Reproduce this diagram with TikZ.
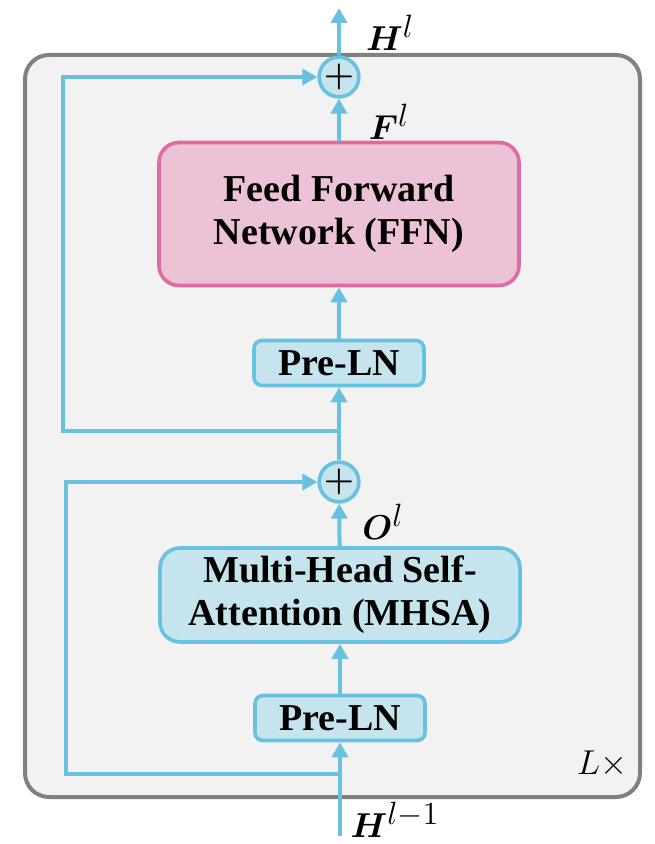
\documentclass[tikz,border=0pt]{standalone}
\usepackage{fontspec}
\setmainfont{Liberation Serif}
\usepackage{amsmath}
\usepackage{graphicx}
\usetikzlibrary{arrows.meta}
\definecolor{skyline}{RGB}{104,193,222}
\definecolor{lnfill}{RGB}{197,228,237}
\definecolor{ffnfill}{RGB}{236,195,214}
\definecolor{ffnline}{RGB}{223,108,160}
\definecolor{outerfill}{RGB}{242,242,242}
\definecolor{outerline}{RGB}{128,128,128}
\newcommand{\supl}[1]{^{\scalebox{1.12}{$\scriptstyle #1$}}}

\begin{document}
\begin{tikzpicture}[x=0.5pt,y=-0.5pt,
  >={Triangle[length=7.5pt,width=8pt]},
  flow/.style={draw=skyline,line width=2pt},
  boxtext/.style={font=\fontsize{19}{21.5}\selectfont\bfseries,align=center},
  lnbox/.style={boxtext,draw=skyline,fill=lnfill,line width=1.8pt,rounded corners=4pt,
    minimum width=85pt,minimum height=22.5pt,inner sep=0pt},
  bigbox/.style={boxtext,line width=1.8pt,rounded corners=10pt,minimum width=180pt,inner sep=0pt},
  addnode/.style={circle,draw=skyline,fill=lnfill,line width=1.8pt,minimum size=19pt,
    inner sep=0pt,font=\fontsize{17}{20}\selectfont},
  lbl/.style={font=\fontsize{19}{22}\selectfont}
]
\useasboundingbox (0,0) rectangle (654,844);
% layer frame
\draw[draw=outerline,fill=outerfill,line width=2pt,rounded corners=12pt] (25,55) rectangle (640,797);
\node[lbl] (rep) at (602,764) {$L\times$};

% main column
\node[addnode] (add2) at (339,77) {$\boldsymbol{+}$};
\node[bigbox,draw=ffnline,fill=ffnfill,minimum height=71.5pt] (ffn) at (339,214) {Feed Forward\\Network (FFN)};
\node[lnbox] (ln2) at (339,363) {Pre-LN};
\node[addnode] (add1) at (339,482) {$\boldsymbol{+}$};
\node[bigbox,draw=skyline,fill=lnfill,minimum height=47pt] (mhsa) at (340,595) {Multi-Head Self-\\Attention (MHSA)};
\node[lnbox] (ln1) at (340,718) {Pre-LN};

\coordinate (in) at (340,836);
\coordinate (out) at (339,8);
\coordinate (split1) at (340,774);
\coordinate (split2) at (339,431);

% labels
\node[lbl] (hout) at (390,33) {$\boldsymbol{H}\supl{l}$};
\node[lbl] (fl) at (389,122) {$\boldsymbol{F}\supl{l}$};
\node[lbl] (ol) at (383,522) {$\boldsymbol{O}\supl{l}$};
\node[lbl] (hin) at (395,820) {$\boldsymbol{H}\supl{l-1}$};

% connectors
\draw[flow,->] (in) -- (ln1);
\draw[flow,->] (ln1) -- (mhsa);
\draw[flow,->] (mhsa) -- (add1);
\draw[flow,->] (add1) -- (ln2);
\draw[flow,->] (ln2) -- (ffn);
\draw[flow,->] (ffn) -- (add2);
\draw[flow,->] (add2) -- (out);

% residual paths
\draw[flow,->] (split1) -- ++(-274,0) |- (add1);
\draw[flow,->] (split2) -- ++(-276,0) |- (add2);

\end{tikzpicture}
\end{document}
